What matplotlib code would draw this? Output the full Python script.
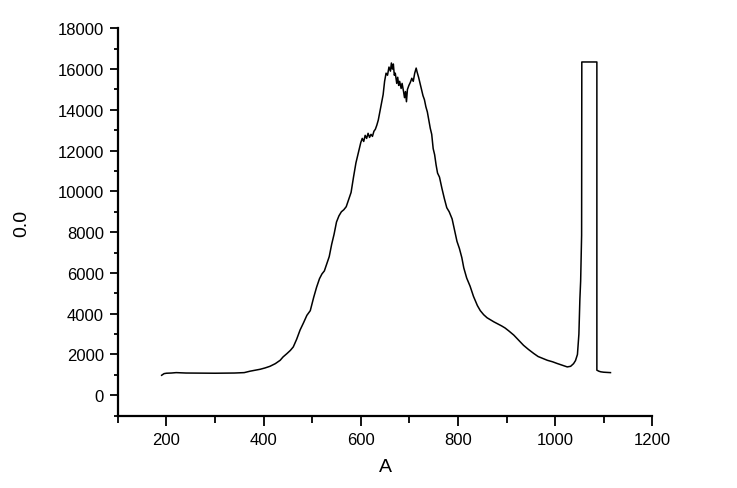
import numpy as np
import matplotlib.pyplot as plt
from matplotlib.ticker import MultipleLocator

plt.rcParams['font.family'] = ['Liberation Sans', 'DejaVu Sans']

# valores (x en unidades de A, y en cuentas)
x_vals = [190, 195, 200, 210, 220, 230, 240, 260, 280, 300, 320, 340, 360, 372, 385,
          393, 403, 413, 424, 434, 440, 448, 455, 461, 468, 475, 482, 489, 496, 503,
          509, 515, 520, 525, 530, 535, 540, 545, 550, 555, 560, 565, 570, 575, 580,
          585, 590, 595, 600, 603, 606, 609, 612, 615, 618, 621, 624, 627, 630, 633,
          636, 640, 643, 646, 649, 652, 655, 658, 661, 663, 665, 667, 669, 671, 674,
          676, 678, 680, 683, 685, 688, 690, 692, 694, 696, 699, 702, 705, 708, 711,
          714, 716, 719, 722, 725, 728, 731, 734, 737, 740, 743, 746, 749, 752, 755,
          758, 762, 767, 772, 777, 782, 788, 793, 798, 803, 808, 812, 818, 825, 832,
          840, 846, 853, 860, 867, 874, 882, 890, 897, 905, 915, 925, 935, 945, 956,
          965, 975, 984, 995, 1004, 1015, 1025, 1032, 1038, 1042, 1046, 1049, 1051,
          1052.6, 1054.6, 1055, 1086, 1086, 1090, 1094, 1100, 1108, 1114]
y_vals = [980, 1060, 1080, 1090, 1110, 1100, 1090, 1085, 1080, 1080, 1085, 1090, 1110,
          1180, 1240, 1275, 1340, 1420, 1550, 1715, 1880, 2045, 2200, 2370, 2750, 3200,
          3550, 3920, 4150, 4800, 5300, 5720, 5950, 6100, 6450, 6800, 7400, 7900, 8500,
          8800, 9000, 9100, 9250, 9600, 9950, 10700, 11400, 11900, 12400, 12600, 12450,
          12750, 12600, 12850, 12650, 12800, 12700, 12950, 13050, 13250, 13500, 14000,
          14400, 14750, 15400, 15800, 15700, 16100, 15900, 16300, 16000, 16250, 15700,
          15800, 15300, 15600, 15200, 15400, 15050, 15300, 14900, 14600, 14900, 14400,
          15000, 15200, 15350, 15550, 15400, 15800, 16050, 15850, 15600, 15300, 15000,
          14700, 14500, 14150, 13900, 13500, 13100, 12800, 12100, 11800, 11300, 10900,
          10700, 10150, 9650, 9200, 9000, 8650, 8100, 7550, 7200, 6750, 6250, 5750, 5350,
          4850, 4400, 4150, 3950, 3800, 3700, 3600, 3500, 3400, 3300, 3150, 2950, 2700,
          2450, 2250, 2050, 1900, 1800, 1715, 1640, 1560, 1470, 1390, 1420, 1550, 1700,
          2000, 3000, 4700, 5600, 7850, 16350, 16350, 1230, 1180, 1150, 1130, 1120, 1110]

fig = plt.figure(figsize=(7.37, 4.89), dpi=100)
ax = fig.add_axes([0.160, 0.148, 0.725, 0.792])
ax.plot(x_vals, y_vals, color="black", linewidth=1.1)

ax.set_xlim(100, 1200)
ax.set_ylim(-1000, 18000)
ax.set_xticks(np.arange(200, 1201, 200))
ax.set_yticks(np.arange(0, 18001, 2000))
ax.xaxis.set_minor_locator(MultipleLocator(100))
ax.yaxis.set_minor_locator(MultipleLocator(1000))

for lado in ["top", "right"]:
    ax.spines[lado].set_visible(False)
for lado in ["left", "bottom"]:
    ax.spines[lado].set_linewidth(1.6)

ax.tick_params(axis="both", which="major", direction="out", width=1.3, labelsize=12, color="black")
ax.tick_params(axis="x", which="major", length=7, pad=5)
ax.tick_params(axis="y", which="major", length=6, pad=4)
ax.tick_params(axis="x", which="minor", length=5, width=1.3)
ax.tick_params(axis="y", which="minor", length=3, width=1.3)

ax.set_xlabel("A", fontsize=14, labelpad=8)
ax.set_ylabel("0.0", fontsize=14, labelpad=20)

fig.savefig("out.png", dpi=100)
